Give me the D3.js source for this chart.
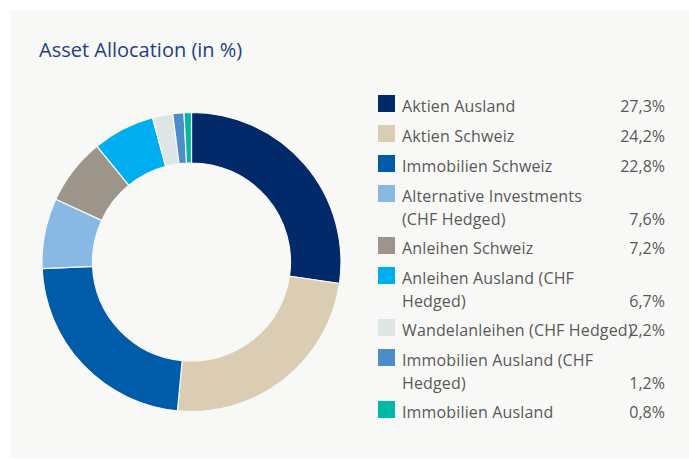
<!DOCTYPE html>
<html><head><meta charset="utf-8">
<script src="https://cdn.jsdelivr.net/npm/d3@7"></script>
<style>html,body{margin:0;padding:0;background:#fff;}svg{display:block;}</style>
</head><body>
<script>
const title = "Asset Allocation (in %)";
const categories = [
  "Aktien Ausland",
  "Aktien Schweiz",
  "Immobilien Schweiz",
  "Alternative Investments\n(CHF Hedged)",
  "Anleihen Schweiz",
  "Anleihen Ausland (CHF\nHedged)",
  "Wandelanleihen (CHF Hedged)",
  "Immobilien Ausland (CHF\nHedged)",
  "Immobilien Ausland"
];
const values = [27.3, 24.2, 22.8, 7.6, 7.2, 6.7, 2.2, 1.2, 0.8];
const valueLabels = ["27,3%", "24,2%", "22,8%", "7,6%", "7,2%", "6,7%", "2,2%", "1,2%", "0,8%"];
const colors = ["#022a6a", "#dacdb3", "#005ba9", "#87b9e4", "#9d948a", "#00aeef", "#dee5e4", "#4b8ccb", "#00b7a8"];

const W = 689, H = 459;
const svg = d3.select("body").append("svg").attr("width", W).attr("height", H);
svg.append("rect").attr("x", 10).attr("y", 10).attr("width", 679).attr("height", 448).attr("fill", "#f8f8f6");

svg.append("text").attr("x", 39).attr("y", 57)
  .attr("font-family", "Open Sans").attr("font-size", 20).attr("fill", "#1e3f86")
  .text(title);

const data = categories.map((c, i) => ({label: c, value: values[i], vl: valueLabels[i], color: colors[i]}));

const pie = d3.pie().value(d => d.value).sort(null);
const arc = d3.arc().innerRadius(99).outerRadius(149.5);
const g = svg.append("g").attr("transform", "translate(191.5,262)");
g.selectAll("path").data(pie(data)).join("path")
  .attr("d", arc).attr("fill", d => d.data.color)
  .attr("stroke", "#f8f8f6").attr("stroke-width", 1.2);

const lg = svg.append("g");
let y = 95;
data.forEach(d => {
  const lines = d.label.split("\n");
  lg.append("rect").attr("x", 378).attr("y", y).attr("width", 17).attr("height", 17).attr("fill", d.color);
  lines.forEach((ln, j) => {
    lg.append("text").attr("x", 402).attr("y", y + 17 + j * 23)
      .attr("font-family", "Open Sans").attr("font-size", 16).attr("letter-spacing", 0.15)
      .attr("fill", "#595959").text(ln);
  });
  lg.append("text").attr("x", 665).attr("y", y + 17 + (lines.length - 1) * 23)
    .attr("text-anchor", "end")
    .attr("font-family", "Open Sans").attr("font-size", 16).attr("fill", "#595959").text(d.vl);
  y += 30 + (lines.length - 1) * 22;
});
</script>
</body></html>
